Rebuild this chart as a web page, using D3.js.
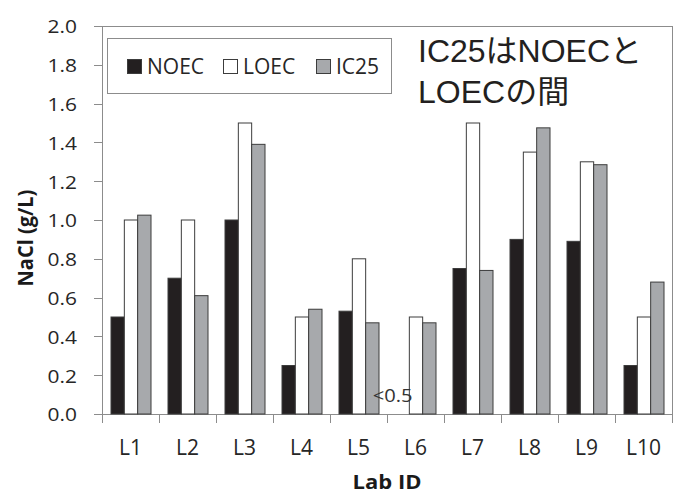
<!DOCTYPE html>
<html><head><meta charset="utf-8">
<script src="https://cdn.jsdelivr.net/npm/d3@7"></script>
<style>body{margin:0;background:#fff}</style>
</head><body><svg id="c" width="679" height="495"></svg>
<script>
const labs = ["L1","L2","L3","L4","L5","L6","L7","L8","L9","L10"];
const series = ["NOEC","LOEC","IC25"];
const noec = [0.5, 0.7, 1.0, 0.25, 0.53, 0, 0.75, 0.9, 0.89, 0.25];
const loec = [1.0, 1.0, 1.5, 0.5, 0.8, 0.5, 1.5, 1.35, 1.3, 0.5];
const ic25 = [1.025, 0.61, 1.39, 0.54, 0.47, 0.47, 0.74, 1.475, 1.285, 0.68];
const yTicks = [0, 0.2, 0.4, 0.6, 0.8, 1.0, 1.2, 1.4, 1.6, 1.8, 2.0];
const noteLab = "L6", noteSeries = "NOEC", noteText = "<0.5";
const annotationLines = ["IC25はNOECと", "LOECの間"];
const yTitle = "NaCl (g/L)", xTitle = "Lab ID";

const fills = {NOEC: "#231f20", LOEC: "#ffffff", IC25: "#a7a9ac"};
const rows = labs.map((lab, i) => ({lab, NOEC: noec[i], LOEC: loec[i], IC25: ic25[i]}));

const svg = d3.select("#c");
const L = 102, R = 672, T = 26, B = 414;
const FONT = "'Open Sans', Lato, sans-serif";
const frameColor = "#8c8c8c";

const x0 = d3.scaleBand().domain(labs).range([L, R]).padding(0);
const x1 = d3.scaleBand().domain(series).range([9, x0.bandwidth() - 8]).padding(0);
const y = d3.scaleLinear().domain([0, 2.0]).range([B, T]);

// plot frame
svg.append("rect").attr("x", L).attr("y", T).attr("width", R - L).attr("height", B - T)
  .attr("fill", "none").attr("stroke", frameColor).attr("stroke-width", 1)
  .attr("shape-rendering", "crispEdges");

// y axis
const ya = svg.append("g").attr("transform", `translate(${L},0)`)
  .call(d3.axisLeft(y).tickValues(yTicks).tickSize(8).tickFormat(d3.format(".1f")));
ya.select(".domain").remove();
ya.selectAll(".tick line").attr("stroke", frameColor).attr("shape-rendering", "crispEdges");
ya.selectAll(".tick text").attr("x", null).attr("dy", "0.36em")
  .attr("transform", "translate(-25,0) scale(1.1,1)")
  .attr("text-anchor", "end").attr("fill", "#262626")
  .style("font-family", FONT).style("font-size", "19px");

// x axis: labels at centers, ticks at boundaries
const xa = svg.append("g").attr("transform", `translate(0,${B})`)
  .call(d3.axisBottom(x0).tickSize(0).tickPadding(0));
xa.select(".domain").remove();
xa.selectAll(".tick text").attr("y", 41).attr("dy", null)
  .attr("fill", "#262626").style("font-family", FONT).style("font-size", "21px");
const bounds = labs.map(d => x0(d)).concat([R]);
svg.append("g").selectAll("line").data(bounds).join("line")
  .attr("x1", d => d).attr("x2", d => d).attr("y1", B).attr("y2", B + 9)
  .attr("stroke", frameColor).attr("shape-rendering", "crispEdges");

// bars
const groups = svg.append("g").selectAll("g").data(rows).join("g")
  .attr("transform", d => `translate(${x0(d.lab)},0)`);
groups.selectAll("rect").data(d => series.map(s => ({s, v: d[s]}))).join("rect")
  .filter(d => d.v > 0)
  .attr("x", d => x1(d.s)).attr("width", x1.bandwidth())
  .attr("y", d => y(d.v)).attr("height", d => y(0) - y(d.v))
  .attr("fill", d => fills[d.s]).attr("stroke", "#3c3c3c").attr("stroke-width", 1);

// note "<0.5"
const nx = x0(noteLab) + x1(noteSeries) + x1.bandwidth() / 2 - 10;
svg.append("text").attr("transform", `translate(${nx},${y(0) - 12}) scale(1.12,1)`)
  .attr("text-anchor", "middle").attr("fill", "#333")
  .style("font-family", FONT).style("font-size", "18px").text(noteText);

// legend
const lg = svg.append("g");
lg.append("rect").attr("x", 107).attr("y", 38.5).attr("width", 284).attr("height", 55)
  .attr("fill", "#fff").attr("stroke", frameColor).attr("shape-rendering", "crispEdges");
const legX = {NOEC: 127, LOEC: 223, IC25: 316};
const li = lg.selectAll("g.li").data(series).join("g").attr("class", "li")
  .attr("transform", d => `translate(${legX[d]},0)`);
li.append("rect").attr("x", 0.5).attr("y", 59.5).attr("width", 14).attr("height", 14)
  .attr("fill", d => fills[d]).attr("stroke", "#3c3c3c");
li.append("text").attr("x", 20).attr("y", 73.5).attr("fill", "#262626")
  .style("font-family", FONT).style("font-size", "21px").text(d => d);

// axis titles
svg.append("text").attr("transform", `translate(33,238) scale(1.1,1) rotate(-90)`)
  .attr("text-anchor", "middle").attr("fill", "#1a1a1a")
  .style("font-family", FONT).style("font-weight", "bold").style("font-size", "20px").text(yTitle);
svg.append("text").attr("transform", `translate(${(L + R) / 2},489) scale(1.1,1)`)
  .attr("text-anchor", "middle").attr("fill", "#1a1a1a")
  .style("font-family", FONT).style("font-weight", "bold").style("font-size", "20px").text(xTitle);

// annotation
svg.append("g").selectAll("text").data(annotationLines).join("text")
  .attr("x", 418).attr("y", (d, i) => 62 + i * 41).attr("fill", "#231f20")
  .style("font-family", "'Liberation Sans', 'Noto Sans CJK JP', sans-serif")
  .style("font-size", "32px").text(d => d);
</script>
</body></html>
